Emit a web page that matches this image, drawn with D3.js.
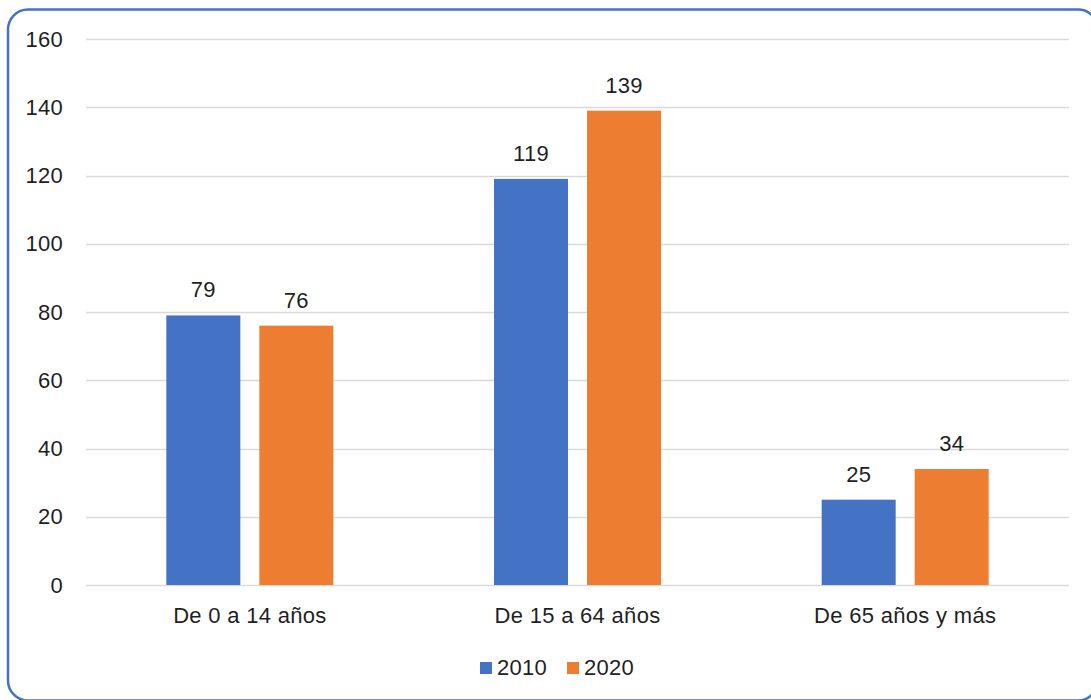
<!DOCTYPE html>
<html><head><meta charset="utf-8">
<script src="https://cdn.jsdelivr.net/npm/d3@7"></script>
<style>body{margin:0;background:#fff}svg{display:block}text{font-family:"Liberation Sans",Arial,sans-serif;fill:#1f1f1f;letter-spacing:0.3px}</style>
</head><body>
<svg id="c" width="1091" height="700"></svg>
<script>
const categories = ["De 0 a 14 años", "De 15 a 64 años", "De 65 años y más"];
const seriesNames = ["2010", "2020"];
const values2010 = [79, 119, 25];
const values2020 = [76, 139, 34];
const yTicks = [0, 20, 40, 60, 80, 100, 120, 140, 160];
const colors = ["#4472C4", "#ED7D31"];
const FS = 22;

const svg = d3.select("#c");
svg.append("rect").attr("x", 8).attr("y", 9.5).attr("width", 1090).attr("height", 691)
  .attr("rx", 20).attr("fill", "#fff").attr("stroke", "#4472C4").attr("stroke-width", 2.5);

const pLeft = 86, pRight = 1069, pTop = 39, pBottom = 585;
const x = d3.scaleBand().domain(categories).range([pLeft, pRight]).paddingInner(0).paddingOuter(0);
const y = d3.scaleLinear().domain([0, 160]).range([pBottom, pTop]);
const barW = 74, gap = 19;

const grid = svg.append("g");
grid.selectAll("line").data(yTicks).join("line")
  .attr("x1", pLeft).attr("x2", pRight)
  .attr("y1", d => Math.round(y(d)) + 0.5).attr("y2", d => Math.round(y(d)) + 0.5)
  .attr("stroke", "#d9d9d9").attr("stroke-width", 1.3);

const yAxis = d3.axisLeft(y).tickValues(yTicks).tickSize(0).tickPadding(0);
const ya = svg.append("g").attr("transform", `translate(63,0)`).call(yAxis);
ya.select(".domain").remove();
ya.selectAll("text").attr("font-size", FS).style("fill", "#1f1f1f").attr("font-family", '"Liberation Sans",Arial,sans-serif');

const series = [values2010, values2020];
series.forEach((vals, si) => {
  const g = svg.append("g");
  const xpos = (c) => x(c) + x.bandwidth() / 2 + (si === 0 ? -gap / 2 - barW : gap / 2);
  g.selectAll("rect").data(categories).join("rect")
    .attr("x", c => xpos(c)).attr("width", barW)
    .attr("y", (c, i) => y(vals[i])).attr("height", (c, i) => y(0) - y(vals[i]))
    .attr("fill", colors[si]);
  g.selectAll("text").data(categories).join("text")
    .attr("x", c => xpos(c) + barW / 2).attr("y", (c, i) => y(vals[i]) - 18)
    .attr("text-anchor", "middle").attr("font-size", FS).text((c, i) => vals[i]);
});

const xAxis = d3.axisBottom(x).tickSize(0).tickPadding(0);
const xa = svg.append("g").attr("transform", `translate(0,${pBottom})`).call(xAxis);
xa.select(".domain").remove();
xa.selectAll("text").attr("dy", 0).attr("y", 38).attr("font-size", FS).style("fill", "#1f1f1f").attr("font-family", '"Liberation Sans",Arial,sans-serif');

const legX = [480, 567];
const leg = svg.append("g");
seriesNames.forEach((s, i) => {
  leg.append("rect").attr("x", legX[i]).attr("y", 662).attr("width", 12).attr("height", 12).attr("fill", colors[i]);
  leg.append("text").attr("x", legX[i] + 17).attr("y", 675).attr("font-size", FS).text(s);
});
</script>
</body></html>
